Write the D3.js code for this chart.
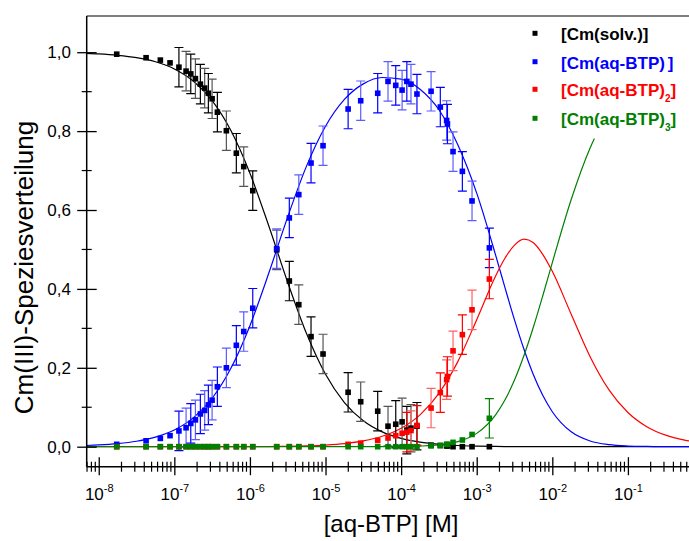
<!DOCTYPE html>
<html><head><meta charset="utf-8">
<script src="https://cdn.jsdelivr.net/npm/d3@7"></script>
<style>
body{margin:0;background:#fff}
svg{display:block;font-family:"Liberation Sans",Arial,Helvetica,sans-serif}
</style>
</head><body>
<svg id="chart" width="689" height="541"></svg>
<script>
// ---------- axis settings ----------
const xAxisMin = 6.93e-9, xAxisMax = 1;
const yAxisMin = -0.0507, yAxisMax = 1.0918;
const xMajorTicks = [1e-8, 1e-7, 1e-6, 1e-5, 1e-4, 1e-3, 1e-2, 1e-1];
const xTickExponents = ["-8", "-7", "-6", "-5", "-4", "-3", "-2", "-1"];
const yMajorTicks = [0, 0.2, 0.4, 0.6, 0.8, 1.0];
const yMinorTicks = [0.1, 0.3, 0.5, 0.7, 0.9];
const xLabel = "[aq-BTP] [M]";
const yLabel = "Cm(III)-Speziesverteilung";

// ---------- measured data (shared concentrations) ----------
const dataX = [1.73e-8, 4.23e-8, 6.53e-8, 8.77e-8, 1.15e-7, 1.43e-7, 1.65e-7, 1.90e-7, 2.21e-7, 2.52e-7,
  2.82e-7, 3.16e-7, 3.71e-7, 4.88e-7, 6.61e-7, 8.28e-7, 1.09e-6, 2.26e-6, 3.32e-6, 4.43e-6,
  6.43e-6, 9.27e-6, 1.99e-5, 2.92e-5, 4.90e-5, 6.71e-5, 8.49e-5, 1.03e-4, 1.19e-4, 1.35e-4,
  1.62e-4, 2.49e-4, 3.30e-4, 4.00e-4, 4.10e-4, 4.86e-4, 6.46e-4, 8.67e-4, 1.47e-3];
const solvY = [0.995, 0.986, 0.980, 0.973, 0.962, 0.952, 0.945, 0.933, 0.919, 0.909,
  0.896, 0.882, 0.848, 0.801, 0.744, 0.710, 0.649, 0.499, 0.420, 0.360,
  0.279, 0.235, 0.138, 0.114, 0.090, 0.052, 0.057, 0.063, 0.042, 0.047,
  0.052, 0.004, 0.003, 0.002, 0.002, 0, 0, 0, 0];
const solvErr = [0, 0, 0, 0, 0.05, 0.05, 0.05, 0.05, 0.05, 0.05,
  0.05, 0.05, 0.05, 0.05, 0.05, 0.05, 0.05, 0.05, 0.05, 0.05,
  0.05, 0.05, 0.05, 0.05, 0.05, 0.05, 0.06, 0.06, 0.06, 0.06,
  0.06, 0, 0, 0, 0, 0, 0, 0, 0];
const btp1Y = [0.006, 0.015, 0.021, 0.028, 0.040, 0.048, 0.059, 0.068, 0.083, 0.092,
  0.106, 0.118, 0.152, 0.200, 0.257, 0.292, 0.351, 0.502, 0.580, 0.639,
  0.719, 0.763, 0.856, 0.877, 0.896, 0.926, 0.916, 0.904, 0.926, 0.919,
  0.894, 0.901, 0.861, 0.827, 0.818, 0.748, 0.698, 0.623, 0.504];
const btp1Err = [0, 0, 0, 0, 0.05, 0.05, 0.05, 0.05, 0.05, 0.05,
  0.05, 0.05, 0.05, 0.05, 0.05, 0.05, 0.05, 0.05, 0.05, 0.05,
  0.05, 0.05, 0.05, 0.05, 0.05, 0.05, 0.05, 0.05, 0.05, 0.05,
  0.05, 0.05, 0.05, 0.05, 0.05, 0.05, 0.05, 0.05, 0.05];
const btp2Y = [0, 0, 0, 0, 0, 0, 0, 0, 0, 0,
  0, 0, 0, 0, 0, 0, 0, 0, 0, 0,
  0, 0, 0.006, 0.009, 0.016, 0.022, 0.028, 0.034, 0.037, 0.041,
  0.054, 0.098, 0.137, 0.170, 0.178, 0.243, 0.284, 0.347, 0.425];
const btp2Err = [0, 0, 0, 0, 0, 0, 0, 0, 0, 0,
  0, 0, 0, 0, 0, 0, 0, 0, 0, 0,
  0, 0, 0, 0, 0, 0, 0, 0, 0.05, 0.05,
  0.05, 0.05, 0.05, 0.05, 0.05, 0.05, 0.05, 0.05, 0.05];
const btp3Y = [0, 0, 0, 0, 0, 0, 0, 0, 0, 0,
  0, 0, 0, 0, 0, 0, 0, 0, 0, 0,
  0, 0, 0, 0, 0, 0, 0, 0, 0, 0,
  0, 0.002, 0.003, 0.006, 0.006, 0.011, 0.017, 0.031, 0.072];
const btp3Err = [0, 0, 0, 0, 0, 0, 0, 0, 0, 0,
  0, 0, 0, 0, 0, 0, 0, 0, 0, 0,
  0, 0, 0, 0, 0, 0, 0, 0, 0, 0,
  0, 0, 0, 0, 0, 0, 0, 0, 0.05];

// ---------- fitted speciation curves ----------
const curveX = [6.93e-9, 1e-8, 1.778e-8, 3.162e-8, 5.623e-8, 1e-7, 1.778e-7, 3.162e-7, 5.623e-7, 1e-6,
  1.778e-6, 3.162e-6, 5.623e-6, 1e-5, 1.778e-5, 3.162e-5, 5.623e-5, 1e-4, 1.778e-4, 3.162e-4,
  5.623e-4, 1e-3, 1.778e-3, 2.371e-3, 3.162e-3, 4.217e-3, 5.623e-3, 7.499e-3, 1e-2, 1.778e-2,
  3.162e-2, 5.623e-2, 0.1, 0.1778, 0.3162, 0.5623, 1];
const curveSolv = [0.9969, 0.9956, 0.9922, 0.9862, 0.9757, 0.9576, 0.9270, 0.8772, 0.8007, 0.6931,
  0.5594, 0.4164, 0.2861, 0.1835, 0.1119, 0.0657, 0.0376, 0.0211, 0.0115, 0.0061,
  0.0031, 0.0015, 0.0006, 0.0004, 0.0003, 0.0002, 0.0001, 0.0001, 0, 0,
  0, 0, 0, 0, 0, 0, 0];
const curveBtp1 = [0.0031, 0.0044, 0.0078, 0.0138, 0.0243, 0.0424, 0.0730, 0.1228, 0.1993, 0.3068,
  0.4402, 0.5827, 0.7119, 0.8124, 0.8803, 0.9197, 0.9359, 0.9318, 0.9062, 0.8542,
  0.7654, 0.6427, 0.4857, 0.4024, 0.3215, 0.2470, 0.1824, 0.1296, 0.0887, 0.0377,
  0.0144, 0.0051, 0.0017, 0.0006, 0.0002, 0.0001, 0];
const curveBtp2 = [0, 0, 0, 0, 0, 0, 0, 0, 0.0001, 0.0002,
  0.0004, 0.0009, 0.0020, 0.0041, 0.0078, 0.0146, 0.0264, 0.0467, 0.0808, 0.1353,
  0.2157, 0.3221, 0.4329, 0.4782, 0.5110, 0.5260, 0.5170, 0.4871, 0.4446, 0.3357,
  0.2282, 0.1441, 0.0868, 0.0508, 0.0292, 0.0167, 0.0094];
const curveX3 = [6.93e-9, 1e-8, 1.778e-8, 3.162e-8, 5.623e-8, 1e-7, 1.778e-7, 3.162e-7, 5.623e-7, 1e-6,
  1.778e-6, 3.162e-6, 5.623e-6, 1e-5, 1.778e-5, 3.162e-5, 5.623e-5, 1e-4, 1.778e-4, 3.162e-4,
  5.623e-4, 1e-3, 1.778e-3, 2.371e-3, 3.162e-3, 4.217e-3, 5.623e-3, 7.499e-3, 1e-2, 1.778e-2,
  3.162e-2, 3.6e-2];
const curveBtp3 = [0, 0, 0, 0, 0, 0, 0, 0, 0, 0,
  0, 0, 0, 0, 0, 0, 0.0002, 0.0005, 0.0015, 0.0045,
  0.0127, 0.0338, 0.0808, 0.1190, 0.1690, 0.2310, 0.3034, 0.3833, 0.4666, 0.6266,
  0.7574, 0.7815];

// ---------- legend ----------
const legendMain = ["[Cm(solv.)]", "[Cm(aq-BTP)", "[Cm(aq-BTP)", "[Cm(aq-BTP)"];
const legendSub = ["", "\u00a0", "2", "3"];
const legendTail = ["", "]", "]", "]"];
const colors = ["#000000", "#0000ff", "#ff0000", "#008000"];
const errColorsAlt = ["#555555", "#5c5cff", "#ff6060", "#3c9a3c"];

const series = [
  {y: solvY, err: solvErr, cx: curveX, cy: curveSolv},
  {y: btp1Y, err: btp1Err, cx: curveX, cy: curveBtp1},
  {y: btp2Y, err: btp2Err, cx: curveX, cy: curveBtp2},
  {y: btp3Y, err: btp3Err, cx: curveX3, cy: curveBtp3}
];

// ---------- layout ----------
const L = 86.7, R = 703.5, T = 16, B = 466.7, W = 689;
const svg = d3.select("#chart");
const x = d3.scaleLog().domain([xAxisMin, xAxisMax]).range([L, R]);
const y = d3.scaleLinear().domain([yAxisMin, yAxisMax]).range([B, T]);

svg.append("defs").append("clipPath").attr("id", "clip")
  .append("rect").attr("x", L).attr("y", T).attr("width", W - L).attr("height", B - T);

const plotG = svg.append("g").attr("clip-path", "url(#clip)");

// curves
const line = d3.line().x(d => x(d[0])).y(d => y(d[1])).curve(d3.curveMonotoneX);
series.forEach((s, k) => {
  const pts = s.cx.map((v, i) => [v, s.cy[i]]);
  plotG.append("path").attr("d", line(pts)).attr("fill", "none")
    .attr("stroke", colors[k]).attr("stroke-width", 1.2);
});

// error bars and markers
const cap = 4.5, ms = 5.6;
series.forEach((s, k) => {
  const g = plotG.append("g");
  dataX.forEach((xv, i) => {
    const e = s.err[i];
    if (e > 0) {
      const cx = x(xv), y1 = y(s.y[i] - e), y2 = y(s.y[i] + e);
      const col = i % 2 ? errColorsAlt[k] : colors[k];
      g.append("line").attr("x1", cx).attr("x2", cx).attr("y1", y1).attr("y2", y2)
        .attr("stroke", col).attr("stroke-width", 1.2);
      [y1, y2].forEach(yy => g.append("line").attr("x1", cx - cap).attr("x2", cx + cap)
        .attr("y1", yy).attr("y2", yy).attr("stroke", col).attr("stroke-width", 1.2));
    }
  });
});
series.forEach((s, k) => {
  plotG.append("g").selectAll("rect").data(dataX).join("rect")
    .attr("x", d => x(d) - ms / 2)
    .attr("y", (d, i) => y(s.y[i]) - ms / 2)
    .attr("width", ms).attr("height", ms)
    .attr("fill", colors[k]);
});

// ---------- axes ----------
// bottom axis
const xMinor = [];
for (let e = -9; e <= -1; e++) for (let m = 2; m <= 9; m++) {
  const v = m * Math.pow(10, e);
  if (v >= xAxisMin && v <= xAxisMax) xMinor.push(v);
}
const xAxisG = svg.append("g").attr("transform", `translate(0,${B})`)
  .call(d3.axisBottom(x).tickValues(xMajorTicks).tickFormat(() => "").tickSizeOuter(0));
xAxisG.select(".domain").remove();
xAxisG.selectAll(".tick line").attr("y1", -9.5).attr("y2", 8.5).attr("stroke", "#000").attr("stroke-width", 1.3);
xAxisG.selectAll(".tick text").remove();
xAxisG.selectAll(".tick").append("text")
  .attr("y", 33.3).attr("text-anchor", "middle").attr("fill", "#000")
  .style("font-size", "17px")
  .each(function (d, i) {
    const t = d3.select(this);
    t.append("tspan").text("10");
    t.append("tspan").attr("dy", -8).style("font-size", "11px").text(xTickExponents[i]);
  });
svg.append("g").selectAll("line").data(xMinor).join("line")
  .attr("x1", d => x(d)).attr("x2", d => x(d)).attr("y1", B - 5).attr("y2", B + 5)
  .attr("stroke", "#000").attr("stroke-width", 1.2);
svg.append("line").attr("x1", L).attr("x2", W).attr("y1", B).attr("y2", B)
  .attr("stroke", "#000").attr("stroke-width", 1.6);

// left axis
const yAxisG = svg.append("g").attr("transform", `translate(${L},0)`)
  .call(d3.axisLeft(y).tickValues(yMajorTicks).tickSize(10).tickPadding(5.7)
    .tickFormat(d => d3.format(".1f")(d).replace(".", ",")));
yAxisG.select(".domain").remove();
yAxisG.selectAll(".tick line").attr("x1", 10).attr("x2", -9.5).attr("stroke", "#000").attr("stroke-width", 1.3);
yAxisG.selectAll(".tick text").style("font-size", "17px").style("font-family", "'Liberation Sans',Arial,sans-serif").attr("fill", "#000");
svg.append("g").selectAll("line").data(yMinorTicks).join("line")
  .attr("x1", L - 5).attr("x2", L + 5).attr("y1", d => y(d)).attr("y2", d => y(d))
  .attr("stroke", "#000").attr("stroke-width", 1.2);
svg.append("line").attr("x1", L).attr("x2", L).attr("y1", T).attr("y2", B)
  .attr("stroke", "#000").attr("stroke-width", 1.5);
// top frame
svg.append("line").attr("x1", L).attr("x2", W).attr("y1", T).attr("y2", T)
  .attr("stroke", "#000").attr("stroke-width", 1.1);

// axis titles
svg.append("text").attr("x", 391).attr("y", 532).attr("text-anchor", "middle")
  .style("font-size", "24px").attr("fill", "#000").text(xLabel);
svg.append("text").attr("transform", "translate(32.5,267.5) rotate(-90)")
  .attr("text-anchor", "middle").style("font-size", "26px").attr("fill", "#000").text(yLabel);

// ---------- legend ----------
const legY = [33.3, 61.7, 89.3, 118.3];
legendMain.forEach((m, k) => {
  svg.append("rect").attr("x", 535 - 2.5).attr("y", legY[k] - 2.5).attr("width", 5).attr("height", 5)
    .attr("fill", colors[k]);
  const t = svg.append("text").attr("x", 561).attr("y", legY[k] + 6.8)
    .style("font-size", "17px").style("font-weight", "bold").attr("fill", colors[k]);
  t.append("tspan").text(m);
  if (legendSub[k]) {
    t.append("tspan").attr("dy", 6).style("font-size", "10px").text(legendSub[k]);
    t.append("tspan").attr("dy", -6).text(legendTail[k]);
  }
});
</script>
</body></html>
